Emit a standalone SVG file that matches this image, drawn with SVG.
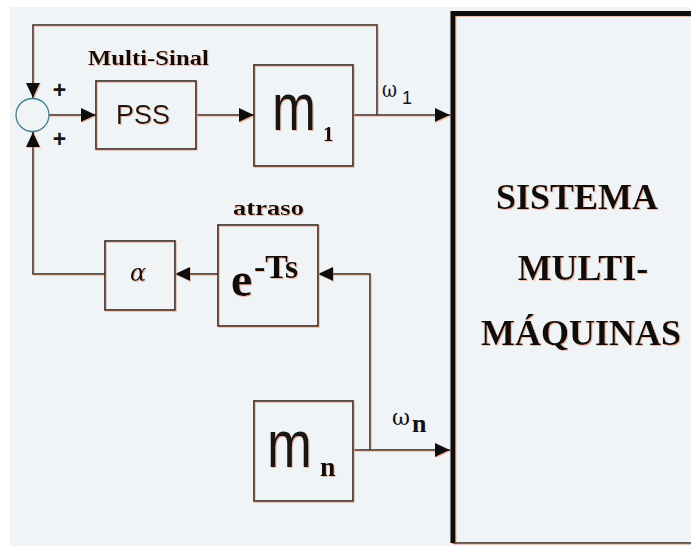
<svg xmlns="http://www.w3.org/2000/svg" width="691" height="546" viewBox="0 0 691 546">
<style>
.box{fill:none;stroke:#262626;stroke-width:1.6}
.ln{fill:none;stroke:#262626;stroke-width:1.5}
.serifb{font-family:"Liberation Serif","Times New Roman",serif;font-weight:bold;fill:#111}
.greek{font-family:"DejaVu Serif","Liberation Serif",serif;fill:#111}
.sans{font-family:"Liberation Sans",Arial,sans-serif;fill:#151515}
</style>
<defs>
<marker id="ah" markerUnits="userSpaceOnUse" markerWidth="15" markerHeight="14" refX="15" refY="7" orient="auto">
<path d="M0,0 L15,7 L0,14 z" fill="#0d0d0d"/>
</marker>
<filter id="sh" x="-5%" y="-5%" width="110%" height="110%">
<feDropShadow dx="1" dy="1" stdDeviation="0.4" flood-color="#f2a98a" flood-opacity="0.8"/>
</filter>
</defs>
<rect x="0" y="0" width="691" height="546" fill="#ffffff"/>
<rect x="10" y="7" width="681" height="539" fill="#f1f4f6"/>

<g id="connectors" filter="url(#sh)">
<path class="ln" d="M377,115 L377,25 L33,25 L33,98" marker-end="url(#ah)"/>
<path class="ln" d="M105,274 L33,274 L33,132" marker-end="url(#ah)"/>
<path class="ln" d="M49,115 L96,115" marker-end="url(#ah)"/>
<path class="ln" d="M196,115 L254,115" marker-end="url(#ah)"/>
<path class="ln" d="M353,115 L450,115" marker-end="url(#ah)"/>
<path class="ln" d="M218,274 L175,274" marker-end="url(#ah)"/>
<path class="ln" d="M370,450 L370,274 L318,274" marker-end="url(#ah)"/>
<path class="ln" d="M353,450 L450,450" marker-end="url(#ah)"/>
</g>

<g id="sum">
<circle cx="32.5" cy="115" r="16.5" fill="none" stroke="#3d7f8f" stroke-width="1.3"/>
<text class="sans" x="59.5" y="98" font-size="23" font-weight="bold" text-anchor="middle">+</text>
<text class="sans" x="59.5" y="147" font-size="23" font-weight="bold" text-anchor="middle">+</text>
</g>

<g id="pss" filter="url(#sh)">
<rect class="box" x="96" y="81" width="100" height="68"/>
<text class="sans" x="143" y="124" font-size="27" text-anchor="middle">PSS</text>
<text class="serifb" x="88" y="65" font-size="20" textLength="121" lengthAdjust="spacingAndGlyphs">Multi-Sinal</text>
</g>

<g id="m1" filter="url(#sh)">
<rect class="box" x="254" y="65" width="99" height="101"/>
<text class="sans" transform="translate(272,130) scale(1,1.25)" x="0" y="0" font-size="53">m</text>
<text class="serifb" x="323" y="141" font-size="21">1</text>
</g>

<g id="w1">
<text class="greek" x="382" y="97" font-size="22" textLength="15" lengthAdjust="spacingAndGlyphs">ω</text>
<text class="sans" x="402" y="104" font-size="18">1</text>
</g>

<g id="delay" filter="url(#sh)">
<rect class="box" x="218" y="225" width="100" height="101"/>
<text class="serifb" x="233" y="215" font-size="22" textLength="71" lengthAdjust="spacingAndGlyphs">atraso</text>
<text class="serifb" x="231" y="296" font-size="48">e</text>
<text class="serifb" x="254" y="278" font-size="34">-Ts</text>
</g>

<g id="alpha" filter="url(#sh)">
<rect class="box" x="105" y="241" width="70" height="69"/>
<text class="greek" x="138" y="281" font-size="24" font-style="italic" fill="#1d3c4c" text-anchor="middle">α</text>
</g>

<g id="mn" filter="url(#sh)">
<rect class="box" x="254" y="401" width="99" height="100"/>
<text class="sans" transform="translate(267,467) scale(1,1.25)" x="0" y="0" font-size="54">m</text>
<text class="serifb" x="320" y="476" font-size="28">n</text>
</g>

<g id="wn">
<text class="greek" x="392" y="425" font-size="22" textLength="18" lengthAdjust="spacingAndGlyphs">ω</text>
<text class="serifb" x="412" y="432" font-size="26">n</text>
</g>

<g id="sistema" filter="url(#sh)">
<path d="M453,543 L453,13.5 L700,13.5" fill="none" stroke="#080808" stroke-width="5"/>
<line x1="453" y1="543" x2="691" y2="543" stroke="#262626" stroke-width="1.6"/>
<text class="serifb" x="577" y="209" font-size="36" text-anchor="middle">SISTEMA</text>
<text class="serifb" x="583" y="280" font-size="36" text-anchor="middle">MULTI-</text>
<text class="serifb" x="581" y="345" font-size="36" text-anchor="middle">MÁQUINAS</text>
</g>
</svg>
